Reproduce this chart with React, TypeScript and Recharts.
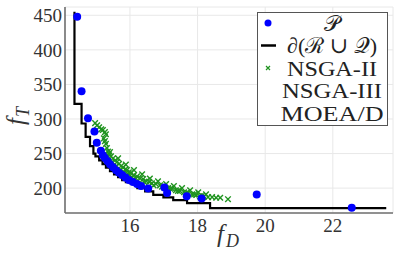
import {
  ComposedChart,
  Line,
  Scatter,
  XAxis,
  YAxis,
  CartesianGrid,
} from "recharts";

// P: solution points (f_D, f_T)
const pX = [14.44, 14.57, 14.76, 14.95, 15.02, 15.14, 15.2, 15.26, 15.34, 15.41, 15.5, 15.59, 15.68, 15.77, 15.87, 15.97, 16.09, 16.21, 16.33, 16.54, 17.02, 17.1, 17.68, 18.12, 19.75, 22.56];
const pY = [448, 340, 301, 282, 265.5, 254, 247.7, 243.4, 239, 234.7, 230.3, 226, 222.4, 218.8, 215.2, 211.6, 208.7, 205.8, 202.9, 199.6, 201, 192.8, 188.4, 185.1, 190.9, 171.5];

// boundary of R u Q (staircase vertices)
const bX = [14.36, 14.36, 14.57, 14.69, 14.82, 14.92, 14.98, 15.09, 15.19, 15.29, 15.41, 15.53, 15.65, 15.77, 15.88, 16.0, 16.22, 16.45, 16.69, 16.99, 17.28, 17.69, 18.37, 23.58];
const bY = [455, 322, 293.5, 274, 260.7, 250, 246, 240, 234.7, 229.6, 224.6, 220, 216, 211.6, 208.7, 207.2, 200, 195.2, 190.3, 186.6, 182.6, 178.3, 171, 171];

// NSGA-II
const nX = [14.97, 15.03, 15.09, 15.15, 15.2, 15.26, 15.29, 15.23, 15.26, 15.29, 15.32, 15.35, 15.38, 15.44, 15.5, 15.56, 15.62, 15.68, 15.74, 15.8, 15.86, 15.91, 15.97, 16.03, 16.12, 16.21, 16.3, 16.39, 16.48, 16.57, 16.65, 16.77, 16.89, 17.01, 17.13, 17.25, 17.36, 17.48, 17.6, 17.72, 17.84, 17.96, 18.07, 18.19, 18.31, 18.43, 18.55, 18.67, 18.9, 15.41, 15.65, 15.88, 16.12, 16.36, 16.59, 16.83, 17.07, 17.3, 17.54, 17.78, 18.02, 18.25, 15.36, 15.47, 15.59, 15.71, 15.83, 15.95, 16.06, 16.18, 16.42, 16.7, 16.95, 17.19, 17.42, 17.66, 17.9, 18.13];
const nY = [294, 291, 288, 285, 284, 281, 278, 272, 268, 264, 258, 253, 249, 246, 243, 240, 238, 235, 232, 230, 227, 226, 223, 222, 219, 217, 214, 213, 210, 209, 207, 206, 204, 201, 200, 199, 197, 196, 194, 193, 191, 190, 188, 188, 187, 187, 186, 186, 184, 252, 243, 234, 226, 220, 214, 210, 206, 203, 200, 197, 194, 191, 246, 238, 232, 227, 223, 220, 216, 214, 209, 204, 202, 199, 196, 193, 191, 189];

const xTicks = [16, 18, 20, 22];
const yTicks = [200, 250, 300, 350, 400, 450];

const legendItems = ["P", "boundary", "NSGA-II", "NSGA-III", "MOEA/D"];
const legendLabels: Record<string, string> = {
  P: "\u{1D4AB}",
  boundary: "\u2202(\u211B \u222A \u{1D4AC})",
  "NSGA-II": "NSGA-II",
  "NSGA-III": "NSGA-III",
  "MOEA/D": "MOEA/D",
};
const legendWidths: Record<string, number> = {
  "NSGA-II": 90,
  "NSGA-III": 100,
  "MOEA/D": 103,
};

const pData = pX.map((x, i) => ({ x, y: pY[i] }));
const bData = bX.map((x, i) => ({ x, y: bY[i] }));
const nData = nX.map((x, i) => ({ x, y: nY[i] }));

const BLUE = "#0000ff";
const GREEN = "#1f931f";
const FONT = "'Liberation Serif', 'DejaVu Serif', serif";

const Dot = (props: any) => <circle cx={props.cx} cy={props.cy} r={4} fill={BLUE} />;

const Cross = (props: any) => {
  const { cx, cy } = props;
  const s = 2.8;
  return (
    <path
      d={`M${cx - s},${cy - s}L${cx + s},${cy + s}M${cx + s},${cy - s}L${cx - s},${cy + s}`}
      stroke={GREEN}
      strokeWidth={1.4}
      fill="none"
    />
  );
};

const LegendBox = () => (
  <svg width={132} height={115} style={{ display: "block" }}>
    <rect x={0.5} y={0.5} width={130} height={113} fill="#fff" stroke="#555" strokeWidth={1} />
    {legendItems.map((k, i) => {
      const cy = 11 + i * 22.5;
      const w = legendWidths[k];
      return (
        <g key={k}>
          {k === "P" && <circle cx={11} cy={cy} r={3.5} fill={BLUE} />}
          {k === "boundary" && <line x1={4} x2={19} y1={cy} y2={cy} stroke="#000" strokeWidth={2.5} />}
          {k === "NSGA-II" && (
            <path
              d={`M9,${cy - 2}L13,${cy + 2}M13,${cy - 2}L9,${cy + 2}`}
              stroke={GREEN}
              strokeWidth={1.2}
            />
          )}
          <text
            x={75}
            y={cy}
            dy="0.35em"
            textAnchor="middle"
            fontFamily={FONT}
            fontSize={22}
            fill="#222"
            {...(w ? { textLength: w, lengthAdjust: "spacingAndGlyphs" } : {})}
          >
            {legendLabels[k]}
          </text>
        </g>
      );
    })}
  </svg>
);

export default function App() {
  return (
    <div style={{ position: "absolute", left: 0, top: 0, width: 399, height: 263, background: "#fff" }}>
      <ComposedChart width={399} height={263} margin={{ top: 7, right: 6, left: 0, bottom: 0 }}>
        <CartesianGrid stroke="#e8e8e8" strokeWidth={1} />
        <XAxis
          dataKey="x"
          type="number"
          domain={[14.08, 23.78]}
          ticks={xTicks}
          height={50}
          tickLine={false}
          tickSize={0}
          tickMargin={6}
          axisLine={{ stroke: "#707070", strokeWidth: 1.6 }}
          tick={{ fontFamily: FONT, fontSize: 19, fill: "#333" }}
          allowDataOverflow
          label={{
            content: () => (
              <text x={217} y={242} fontFamily={FONT} fontSize={25} fill="#333">
                <tspan fontStyle="italic">f</tspan>
                <tspan fontStyle="italic" fontSize={18} dy={5} dx={2}>D</tspan>
              </text>
            ),
          }}
        />
        <YAxis
          type="number"
          domain={[164, 462]}
          ticks={yTicks}
          width={65}
          tickLine={false}
          tickSize={0}
          tickMargin={3}
          axisLine={{ stroke: "#707070", strokeWidth: 1.6 }}
          tick={{ fontFamily: FONT, fontSize: 19, fill: "#333" }}
          allowDataOverflow
          label={{
            content: () => (
              <text transform="translate(24,125) rotate(-90)" fontFamily={FONT} fontSize={25} fill="#333">
                <tspan fontStyle="italic">f</tspan>
                <tspan fontStyle="italic" fontSize={18} dy={5} dx={1}>T</tspan>
              </text>
            ),
          }}
        />
        <Line
          data={bData}
          dataKey="y"
          type="stepAfter"
          stroke="#000"
          strokeWidth={2.2}
          dot={false}
          activeDot={false}
          isAnimationActive={false}
        />
        <Scatter data={nData} dataKey="y" shape={Cross} isAnimationActive={false} />
        <Scatter data={pData} dataKey="y" shape={Dot} isAnimationActive={false} />
      </ComposedChart>
      <div style={{ position: "absolute", left: 257, top: 12 }}>
        <LegendBox />
      </div>
    </div>
  );
}
